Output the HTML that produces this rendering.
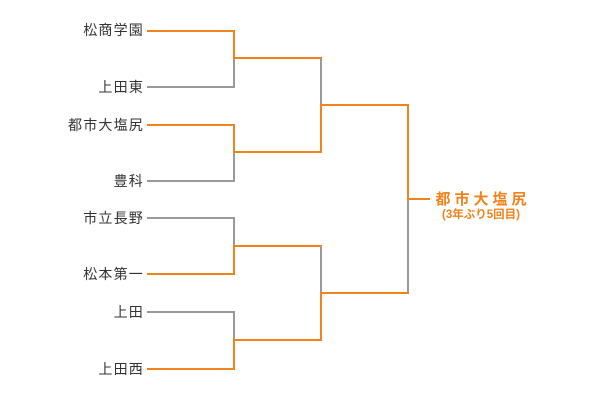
<!DOCTYPE html>
<html><head><meta charset="utf-8"><style>
html,body{margin:0;padding:0;background:#fff;width:600px;height:400px;overflow:hidden}
</style></head><body>
<svg width="600" height="400" xmlns="http://www.w3.org/2000/svg" style="display:block">
<g font-family="Liberation Sans, Noto Sans CJK JP, sans-serif" font-size="14" fill="#333" text-anchor="end" letter-spacing="1.2">
<text x="144" y="35">松商学園</text>
<text x="144" y="92">上田東</text>
<text x="144" y="130">都市大塩尻</text>
<text x="144" y="186">豊科</text>
<text x="144" y="223">市立長野</text>
<text x="144" y="279">松本第一</text>
<text x="144" y="317">上田</text>
<text x="144" y="374">上田西</text>
</g>
<g fill="none" stroke-width="2" stroke-linecap="square">
<g stroke="#999">
<polyline points="148,87 234,87 234,58"/>
<polyline points="148,181 234,181 234,152"/>
<polyline points="148,218 234,218 234,246"/>
<polyline points="148,312 234,312 234,340"/>
<polyline points="321,58 321,105"/>
<polyline points="321,246 321,293"/>
<polyline points="408,199 408,293"/>
</g>
<g stroke="#f0831c">
<polyline points="148,31 234,31 234,58 321,58"/>
<polyline points="148,125 234,125 234,152 321,152 321,105 408,105 408,199 429,199"/>
<polyline points="148,274 234,274 234,246 321,246"/>
<polyline points="148,369 234,369 234,340 321,340 321,293 408,293"/>
</g>
</g>
<g font-family="Liberation Sans, Noto Sans CJK JP, sans-serif" fill="#f0831c" font-weight="bold" text-anchor="middle">
<text x="483" y="204" font-size="15" letter-spacing="4">都市大塩尻</text>
<text x="481" y="218" font-size="11.5">(3年ぶり5回目)</text>
</g>
</svg>
</body></html>
